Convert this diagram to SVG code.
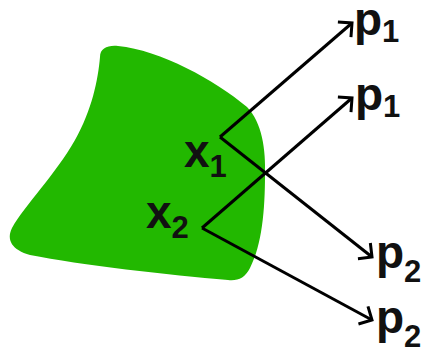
<svg xmlns="http://www.w3.org/2000/svg" width="427" height="356" viewBox="0 0 427 356">
<style>
.c{fill:none;stroke:#000;stroke-width:3;stroke-linejoin:miter}
.t{font-family:"Liberation Sans",Arial,sans-serif;fill:#111;font-weight:bold}
.m{font-size:46px}
.s{font-size:31px}
</style>
<defs>
<marker id="ah" markerUnits="userSpaceOnUse" markerWidth="30" markerHeight="30" viewBox="-15 -15 30 30" refX="0" refY="0" orient="auto">
<path d="M-10,-10 L0,0 L-10,10" fill="none" stroke="#000" stroke-width="3"/>
</marker>
</defs>
<g id="region">
<path d="M 100,57 C 100,48 108,45 118,46 C 160,50 215,80 247,107 C 262,122 266,150 265,175 C 265,210 262,245 250,268 C 245,278 238,281 228,280 C 170,275 80,265 30,255 C 12,250 6,240 12,228 C 25,205 55,175 75,140 C 92,110 98,80 100,57 Z" fill="#22b800"/>
</g>
<g id="connectors">
<line class="c" x1="220" y1="137" x2="352" y2="23" marker-end="url(#ah)"/>
<line class="c" x1="220" y1="137" x2="372" y2="257" marker-end="url(#ah)"/>
<line class="c" x1="202" y1="228" x2="352" y2="98" marker-end="url(#ah)"/>
<line class="c" x1="202" y1="228" x2="372" y2="320" marker-end="url(#ah)"/>
</g>
<g id="x1"><text class="t" x="184" y="167"><tspan class="m">x</tspan><tspan class="s" dy="10">1</tspan></text></g>
<g id="x2"><text class="t" x="146" y="228"><tspan class="m">x</tspan><tspan class="s" dy="10">2</tspan></text></g>
<g id="p1a"><text class="t" x="354" y="35"><tspan class="m">p</tspan><tspan class="s" dy="7">1</tspan></text></g>
<g id="p1b"><text class="t" x="355" y="110"><tspan class="m">p</tspan><tspan class="s" dy="7">1</tspan></text></g>
<g id="p2a"><text class="t" x="376" y="268"><tspan class="m">p</tspan><tspan class="s" dy="14">2</tspan></text></g>
<g id="p2b"><text class="t" x="376" y="333"><tspan class="m">p</tspan><tspan class="s" dy="14">2</tspan></text></g>
</svg>
